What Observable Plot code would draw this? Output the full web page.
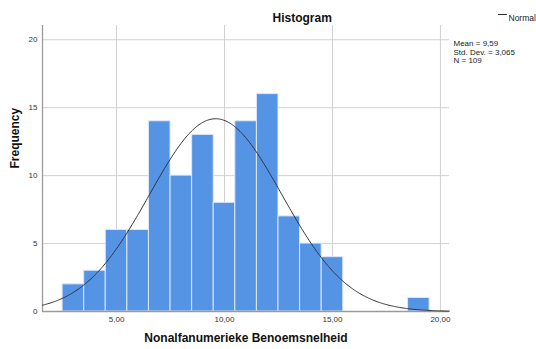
<!DOCTYPE html>
<html>
<head>
<meta charset="utf-8">
<script src="https://cdn.jsdelivr.net/npm/d3@7"></script>
<script src="https://cdn.jsdelivr.net/npm/@observablehq/plot@0.6"></script>
<style>
  html, body { margin: 0; padding: 0; background: #fff; }
  #chart svg { display: block; }
</style>
</head>
<body>
<div id="chart"></div>
<script>
// Histogram bins (centers, width 1) and counts
const binCenters = [3, 4, 5, 6, 7, 8, 9, 10, 11, 12, 13, 14, 15, 19];
const binCounts  = [2, 3, 6, 6, 14, 10, 13, 8, 14, 16, 7, 5, 4, 1];
const binWidth = 1;
// Stated statistics
const statMean = 9.59;
const statSD = 3.065;
const statN = 109;
const statLines = ["Mean = 9,59", "Std. Dev. = 3,065", "N = 109"];
const xTicks = [5, 10, 15, 20];
const yTicks = [0, 5, 10, 15, 20];
const titleText = "Histogram";
const xLabel = "Nonalfanumerieke Benoemsnelheid";
const yLabel = "Frequency";
const legendLabel = "Normal";

const bins = binCenters.map((c, i) => ({x1: c - binWidth / 2, x2: c + binWidth / 2, count: binCounts[i]}));
const xDomain = [1.57, 20.42];
const yDomain = [0, 21.05];

// Fitted normal curve defined by the stated mean, sd and N
const curve = d3.range(xDomain[0], xDomain[1] + 0.001, 0.05).map(x => ({
  x,
  y: statN * binWidth / (statSD * Math.sqrt(2 * Math.PI)) * Math.exp(-((x - statMean) ** 2) / (2 * statSD ** 2))
}));

const fmt = d => d3.format(".2f")(d).replace(".", ",");

const chart = Plot.plot({
  width: 536,
  height: 349,
  marginLeft: 42,
  marginRight: 87,
  marginTop: 25,
  marginBottom: 38,
  style: {fontFamily: "'Liberation Sans', Arial, sans-serif", fontSize: "8px", color: "#333", background: "#fff"},
  x: {domain: xDomain, label: null},
  y: {domain: yDomain, label: null},
  marks: [
    Plot.gridX(xTicks, {stroke: "#d0d0d0", strokeOpacity: 1}),
    Plot.gridY(yTicks.slice(1), {stroke: "#d0d0d0", strokeOpacity: 1}),
    Plot.rectY(bins, {x1: "x1", x2: "x2", y: "count", fill: "#5594e5", stroke: "#dce8f8", strokeWidth: 1}),
    Plot.ruleX([xDomain[0]], {stroke: "#9a9a9a", strokeWidth: 1.3}),
    Plot.ruleY([0], {stroke: "#9a9a9a", strokeWidth: 1.3}),
    Plot.line(curve, {x: "x", y: "y", stroke: "#333", strokeWidth: 1, curve: "basis"}),
    Plot.axisX({ticks: xTicks, tickFormat: fmt, tickSize: 0, tickPadding: 5, label: null, fill: "#333"}),
    Plot.axisY({ticks: yTicks, tickSize: 0, tickPadding: 5, label: null, fill: "#333"}),
    // title
    Plot.text([titleText], {frameAnchor: "top-left", dx: 230, dy: -12, text: d => d, fontSize: 12, fontWeight: "bold", fill: "#111", textAnchor: "start"}),
    // x label
    Plot.text([xLabel], {frameAnchor: "bottom", dy: 30, text: d => d, fontSize: 12, fontWeight: "bold", fill: "#111"}),
    // y label
    Plot.text([yLabel], {frameAnchor: "left", dx: -27, text: d => d, fontSize: 12, fontWeight: "bold", fill: "#111", rotate: -90}),
    // stats
    Plot.text([statLines.join("\n")], {frameAnchor: "top-right", dx: 4, dy: 15, text: d => d, fontSize: 8, lineHeight: 1.05, fill: "#222", textAnchor: "start", lineAnchor: "top"}),
    // legend text
    Plot.text([legendLabel], {frameAnchor: "top-right", dx: 59, dy: -11, text: d => d, fontSize: 8.5, fill: "#222", textAnchor: "start"})
  ]
});

// legend line sample
const svg = d3.select(chart);
svg.append("line").attr("x1", 498).attr("x2", 507).attr("y1", 14.5).attr("y2", 14.5).attr("stroke", "#333").attr("stroke-width", 1);
document.getElementById("chart").appendChild(chart);
</script>
</body>
</html>
